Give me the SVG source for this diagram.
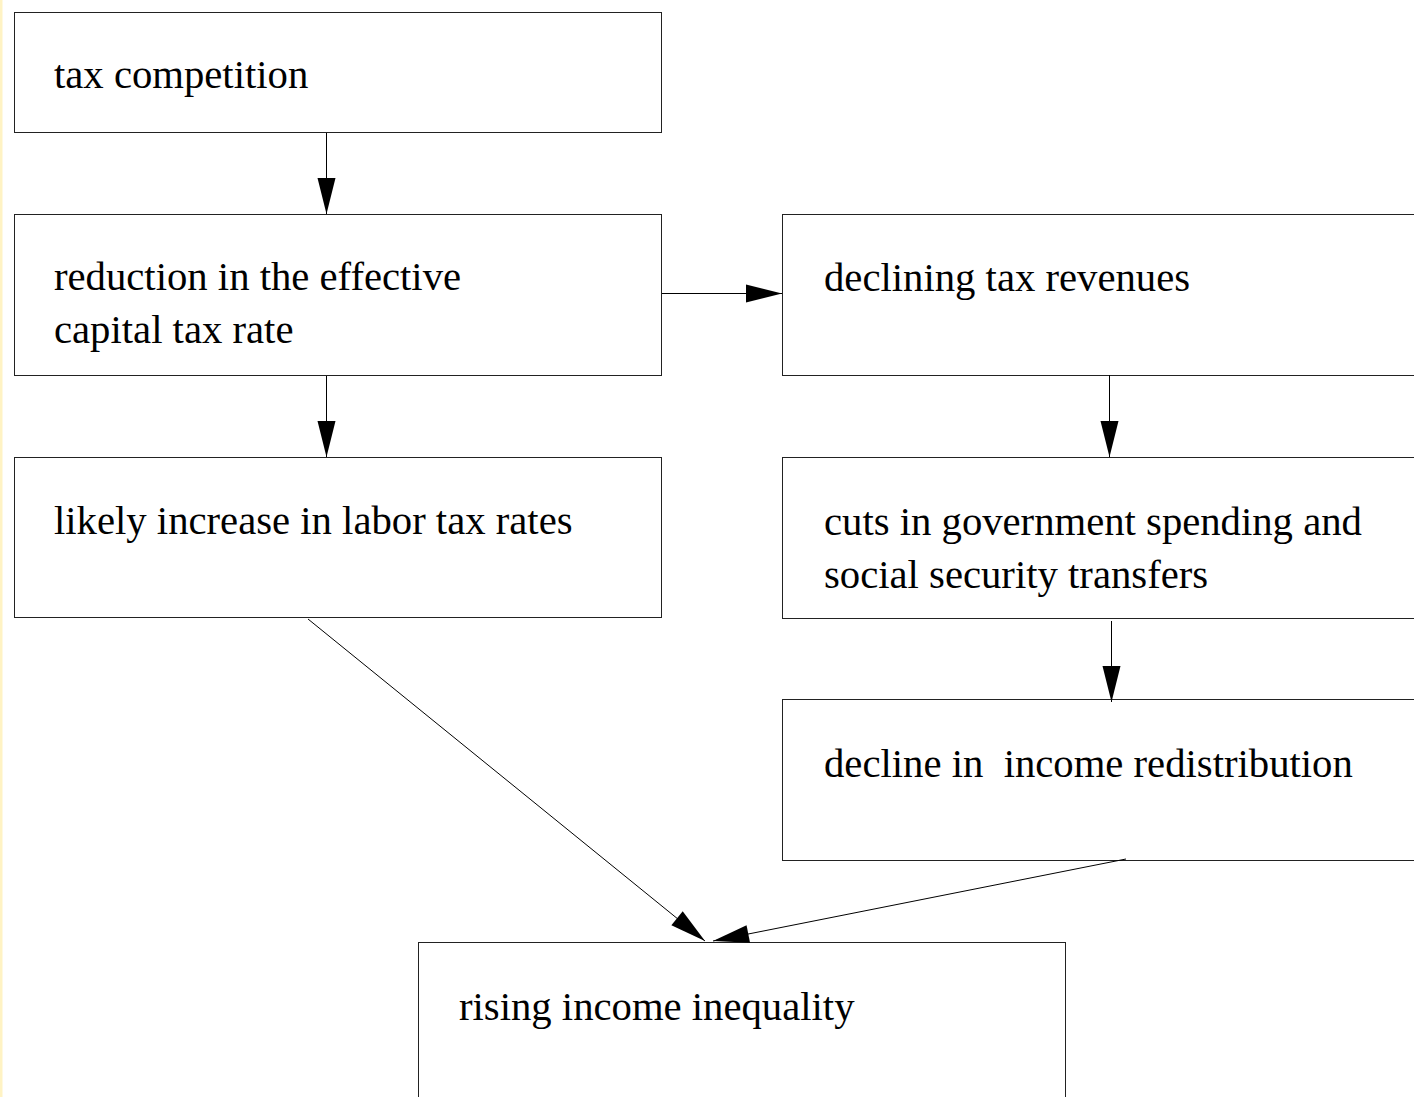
<svg xmlns="http://www.w3.org/2000/svg" width="1414" height="1097" viewBox="0 0 1414 1097">
<style>
.box{fill:#fff;stroke:#222;stroke-width:1}
.t{font-family:"Liberation Serif","Times New Roman",serif;font-size:40.7px;fill:#000;white-space:pre}
.c{stroke:#000;stroke-width:1;fill:none;marker-end:url(#ah)}
</style>
<defs>
<marker id="ah" markerUnits="userSpaceOnUse" markerWidth="37" markerHeight="18" refX="36" refY="9" orient="auto" overflow="visible">
<path d="M0,0 L36,9 L0,18 z" fill="#000"/>
</marker>
</defs>
<rect width="1414" height="1097" fill="#fff"/>
<rect x="0" y="0" width="2.5" height="1097" fill="#fff3c4"/>
<g id="n1"><rect class="box" x="14.5" y="12.5" width="647" height="120"/><text class="t" x="54" y="88">tax competition</text></g>
<g id="n2"><rect class="box" x="14.5" y="214.5" width="647" height="161"/><text class="t" x="54" y="290">reduction in the effective</text><text class="t" x="54" y="343">capital tax rate</text></g>
<g id="n3"><rect class="box" x="14.5" y="457.5" width="647" height="160"/><text class="t" x="54" y="534">likely increase in labor tax rates</text></g>
<g id="n4"><rect class="box" x="782.5" y="214.5" width="650" height="161"/><text class="t" x="824" y="291">declining tax revenues</text></g>
<g id="n5"><rect class="box" x="782.5" y="457.5" width="650" height="161"/><text class="t" x="824" y="535">cuts in government spending and</text><text class="t" x="824" y="588">social security transfers</text></g>
<g id="n6"><rect class="box" x="782.5" y="699.5" width="650" height="161"/><text class="t" x="824" y="777" xml:space="preserve">decline in  income redistribution</text></g>
<g id="n7"><rect class="box" x="418.5" y="942.5" width="647" height="170"/><text class="t" x="459" y="1020">rising income inequality</text></g>
<g id="connectors">
<line class="c" x1="326.5" y1="133" x2="326.5" y2="214"/>
<line class="c" x1="662" y1="293.5" x2="782" y2="293.5"/>
<line class="c" x1="326.5" y1="376" x2="326.5" y2="457"/>
<line class="c" x1="1109.5" y1="375" x2="1109.5" y2="457"/>
<line class="c" x1="1111.5" y1="621" x2="1111.5" y2="702"/>
<line class="c" x1="308" y1="619" x2="705" y2="941"/>
<line class="c" x1="1126" y1="859" x2="713" y2="941"/>
</g>
</svg>
